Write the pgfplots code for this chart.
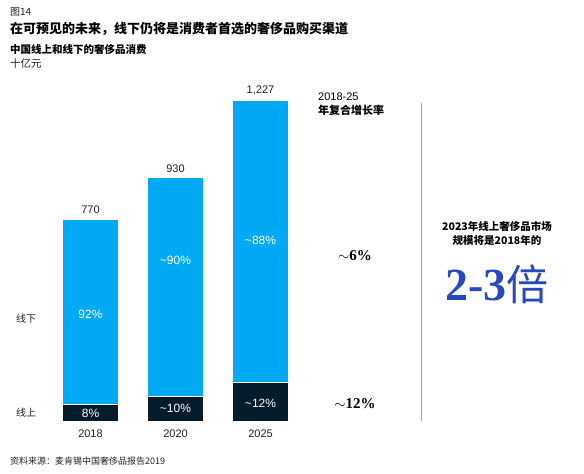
\documentclass[border=0pt]{standalone}
\usepackage{pgfplots}
\pgfplotsset{compat=1.18}
\usepackage{fontspec}
\setmainfont{Liberation Sans}
\newfontfamily\cjk{Noto Sans CJK SC}
\newfontfamily\serifb{Liberation Serif}
\definecolor{lightb}{HTML}{00A9F4}
\definecolor{navy}{HTML}{051C2C}
\definecolor{bigblue}{RGB}{40,72,190}
\definecolor{txt}{HTML}{222222}
\begin{document}
\begin{tikzpicture}[x=1bp,y=1bp]
\path[use as bounding box] (0,0) rectangle (584,474);
\begin{axis}[
  at={(48bp,53bp)}, anchor=south west,
  scale only axis, width=255bp, height=340bp,
  xmin=-0.5, xmax=2.5, ymin=0, ymax=1300,
  axis lines=none, clip=false,
  ybar stacked, bar width=56bp,
  xtick=\empty, ytick=\empty,
]
\addplot[fill=navy, draw=white, line width=0.8bp] coordinates {(0,61.6) (1,93) (2,147.2)};
\addplot[fill=lightb, draw=white, line width=0.8bp] coordinates {(0,708.4) (1,837) (2,1079.8)};
\node[font=\fontsize{11bp}{13bp}\selectfont, text=txt, anchor=south, yshift=2bp] at (axis cs:0,770) {770};
\node[font=\fontsize{11bp}{13bp}\selectfont, text=txt, anchor=south, yshift=2bp] at (axis cs:1,930) {930};
\node[font=\fontsize{11bp}{13bp}\selectfont, text=txt, anchor=south, yshift=2bp] at (axis cs:2,1227) {1,227};
\coordinate (a1) at (axis cs:0,409);
\coordinate (a2) at (axis cs:1,615);
\coordinate (a3) at (axis cs:2,692);
\coordinate (b1) at (axis cs:0,31);
\coordinate (b2) at (axis cs:1,50);
\coordinate (b3) at (axis cs:2,69);
\node[font=\fontsize{11bp}{13bp}\selectfont, text=txt, anchor=north, yshift=-5bp] at (axis cs:0,0) {2018};
\node[font=\fontsize{11bp}{13bp}\selectfont, text=txt, anchor=north, yshift=-5bp] at (axis cs:1,0) {2020};
\node[font=\fontsize{11bp}{13bp}\selectfont, text=txt, anchor=north, yshift=-5bp] at (axis cs:2,0) {2025};
\end{axis}
\begin{scope}[every node/.style={font=\fontsize{12bp}{14bp}\selectfont, text=white}]
\node at (a1) {92\%};
\node at (a2) {\textasciitilde 90\%};
\node at (a3) {\textasciitilde 88\%};
\node at (b1) {8\%};
\node at (b2) {\textasciitilde 10\%};
\node at (b3) {\textasciitilde 12\%};
\end{scope}
\draw[color=black!35, line width=0.8bp] (421.5,371) -- (421.5,53);
\node[anchor=west, inner sep=0pt, text=txt, font=\cjk\fontsize{10bp}{12bp}\selectfont] at (10,462) {图14};
\node[anchor=west, inner sep=0pt, text=black, font=\cjk\bfseries\fontsize{13bp}{15bp}\selectfont] at (10,445) {在可预见的未来，线下仍将是消费者首选的奢侈品购买渠道};
\node[anchor=west, inner sep=0pt, text=black, font=\cjk\bfseries\fontsize{10.5bp}{12bp}\selectfont] at (10,424) {中国线上和线下的奢侈品消费};
\node[anchor=west, inner sep=0pt, text=txt, font=\cjk\fontsize{10.5bp}{12bp}\selectfont] at (10,410) {十亿元};
\node[anchor=west, inner sep=0pt, text=black, font=\fontsize{11bp}{13bp}\selectfont] at (318,377) {2018-25};
\node[anchor=west, inner sep=0pt, text=black, font=\cjk\bfseries\fontsize{11bp}{13bp}\selectfont] at (318,364) {年复合增长率};
\node[inner sep=0pt, text=black, font=\serifb\bfseries\fontsize{15bp}{17bp}\selectfont] at (355,218) {$\sim$6\%};
\node[inner sep=0pt, text=black, font=\serifb\bfseries\fontsize{15bp}{17bp}\selectfont] at (355,70) {$\sim$12\%};
\node[inner sep=0pt, text=black, font=\cjk\bfseries\fontsize{10.5bp}{12bp}\selectfont] at (497,248) {2023年线上奢侈品市场};
\node[inner sep=0pt, text=black, font=\cjk\bfseries\fontsize{10.5bp}{12bp}\selectfont] at (497,233) {规模将是2018年的};
\node[inner sep=0pt, text=bigblue] at (497,190) {{\serifb\bfseries\fontsize{46bp}{50bp}\selectfont 2-3}{\cjk\fontsize{42bp}{46bp}\selectfont 倍}};
\node[anchor=west, inner sep=0pt, text=txt, font=\cjk\fontsize{10bp}{12bp}\selectfont] at (16,155) {线下};
\node[anchor=west, inner sep=0pt, text=txt, font=\cjk\fontsize{10bp}{12bp}\selectfont] at (16,61) {线上};
\node[anchor=west, inner sep=0pt, text=txt, font=\cjk\fontsize{9bp}{11bp}\selectfont] at (10,13) {资料来源：麦肯锡中国奢侈品报告2019};
\end{tikzpicture}
\end{document}
